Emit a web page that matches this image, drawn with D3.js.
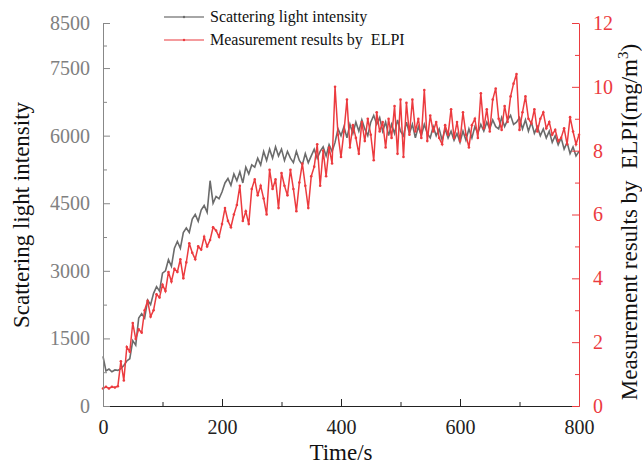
<!DOCTYPE html>
<html>
<head>
<meta charset="utf-8">
<script src="https://cdn.jsdelivr.net/npm/d3@7"></script>
<style>
  body { margin: 0; background: #fff; }
  text { font-family: "Liberation Serif", "Times New Roman", serif; }
</style>
</head>
<body>
<div id="chart"></div>
<script>
// time step of 5 s, 0..800
var timeStep = 5;

// scattering light intensity (left axis)
var scatterVals = [
  1100,780,820,760,800,790,830,900,1000,1050,
  1450,1350,1950,2050,1950,2350,2250,2500,2650,2550,
  2950,3000,3250,3100,3500,3650,3500,3850,3950,3850,
  4150,4250,4100,4350,4450,4300,5000,4500,4650,4600,
  4750,4950,5050,4900,5150,5000,5200,4950,5300,5150,
  5350,5300,5500,5350,5650,5450,5700,5500,5750,5550,
  5700,5450,5650,5500,5400,5650,5450,5350,5600,5400,
  5550,5700,5500,5650,5750,5550,5800,5650,5850,6150,
  6000,6200,5950,6250,6050,6300,6100,6350,6150,6000,
  6300,6450,6250,6400,6100,6300,6000,6250,6050,6350,
  6100,6000,6300,6050,6250,5950,6200,6000,6250,6050,
  5950,6200,6000,6150,5900,6150,5950,6100,5900,6050,
  5850,6100,5900,6150,5950,6200,6050,6250,6100,6300,
  6150,6350,6200,6150,6400,6200,6350,6450,6250,6300,
  6400,6150,6350,6100,6300,6050,6200,6000,6150,5950,
  6100,5850,6000,5800,5950,5700,5850,5600,5750,5550,
  5650
];

// ELPI measurement, mg/m3 (right axis)
var elpiVals = [
  0.55,0.6,0.55,0.6,0.58,0.62,1.4,0.8,1.85,1.7,
  2.6,2.1,2.4,2.3,3.0,3.3,2.8,3.0,3.5,3.4,
  3.8,3.6,4.2,3.9,4.3,4.2,4.6,4.0,4.5,5.1,
  4.8,4.6,5.0,4.9,5.3,5.0,5.2,5.6,5.5,5.3,
  5.7,6.2,5.8,5.6,6.0,6.3,6.9,5.8,6.1,5.7,
  6.8,7.1,6.6,6.9,6.5,6.0,7.4,6.8,7.1,6.2,
  7.3,6.9,6.6,7.4,6.8,6.1,7.0,7.6,6.9,6.2,
  7.2,7.5,8.2,6.9,8.0,7.2,8.1,7.6,10.0,8.5,
  7.8,8.6,9.6,8.1,8.8,8.4,7.9,8.9,8.3,9.0,
  8.5,7.7,9.2,8.6,8.9,8.1,9.0,8.4,9.4,7.9,
  9.6,7.8,9.5,8.5,9.6,8.6,9.0,8.4,9.9,8.3,
  9.1,8.6,8.9,8.4,8.2,8.8,8.5,9.3,8.4,8.9,
  8.3,9.2,8.5,8.1,8.8,9.0,8.4,9.8,8.7,9.3,
  8.6,9.6,9.95,9.0,8.65,9.4,8.9,9.7,10.1,10.4,
  8.65,9.2,9.7,9.0,8.85,9.3,8.6,9.0,9.2,8.7,
  8.9,8.5,8.65,8.3,8.4,8.7,8.2,9.05,8.6,8.2,
  8.5
];

var leftTicks = [0, 1500, 3000, 4500, 6000, 7500, 8500],
	leftMinor = [750, 2250, 3750, 5250, 6750, 8000],
	rightTicks = [0, 2, 4, 6, 8, 10, 12],
	rightMinor = [1, 3, 5, 7, 9, 11],
	xTicks = [0, 200, 400, 600, 800],
	xMinor = [100, 300, 500, 700];

var seriesNames = ["Scattering light intensity", "Measurement results by  ELPI"];

var width = 642,
	height = 468,
	margin = {left: 103, right: 63, top: 23, bottom: 62},
	grayCol = "#6b6b6b",
	redCol = "#ec3b3f";

var svg = d3.select("#chart").append("svg")
	.attr("width", width)
	.attr("height", height);

var x = d3.scaleLinear().domain([0, 800]).range([margin.left, width - margin.right]);
var yL = d3.scaleLinear().domain([0, 8500]).range([height - margin.bottom, margin.top]);
var yR = d3.scaleLinear().domain([0, 12]).range([height - margin.bottom, margin.top]);

var scatterData = scatterVals.map(function(v, i) { return [i * timeStep, v]; });
var elpiData = elpiVals.map(function(v, i) { return [i * timeStep, v]; });

// lines
var lineL = d3.line().x(function(d) { return x(d[0]); }).y(function(d) { return yL(d[1]); });
var lineR = d3.line().x(function(d) { return x(d[0]); }).y(function(d) { return yR(d[1]); });

svg.append("path")
	.datum(scatterData)
	.attr("fill", "none")
	.attr("stroke", grayCol)
	.attr("stroke-width", 1.6)
	.attr("d", lineL);

svg.append("path")
	.datum(elpiData)
	.attr("fill", "none")
	.attr("stroke", redCol)
	.attr("stroke-width", 1.5)
	.attr("d", lineR);

svg.append("g").selectAll("circle")
	.data(elpiData)
	.enter().append("circle")
	.attr("cx", function(d) { return x(d[0]); })
	.attr("cy", function(d) { return yR(d[1]); })
	.attr("r", 1.3)
	.attr("fill", redCol);

// axes
function styleAxis(g, col, txtCol) {
	g.select(".domain").attr("stroke", col);
	g.selectAll(".tick line").attr("stroke", col);
	g.selectAll("text").attr("fill", txtCol).style("font-size", "20px");
}

var bottomY = height - margin.bottom;

svg.append("g")
	.attr("transform", "translate(0," + bottomY + ")")
	.call(d3.axisBottom(x).tickValues(xTicks).tickSizeInner(-7).tickSizeOuter(0).tickPadding(14).tickFormat(d3.format("d")))
	.call(styleAxis, "#222", "#222");
svg.append("g")
	.attr("transform", "translate(0," + bottomY + ")")
	.call(d3.axisBottom(x).tickValues(xMinor).tickSize(-4).tickFormat(""))
	.call(function(g) { g.select(".domain").remove(); g.selectAll("line").attr("stroke", "#222"); });

svg.append("g")
	.attr("transform", "translate(" + margin.left + ",0)")
	.call(d3.axisLeft(yL).tickValues(leftTicks).tickSizeInner(-7).tickSizeOuter(0).tickPadding(13).tickFormat(d3.format("d")))
	.call(styleAxis, "#888", "#808080");
svg.append("g")
	.attr("transform", "translate(" + margin.left + ",0)")
	.call(d3.axisLeft(yL).tickValues(leftMinor).tickSize(-4).tickFormat(""))
	.call(function(g) { g.select(".domain").remove(); g.selectAll("line").attr("stroke", "#888"); });

var rx = width - margin.right;
svg.append("g")
	.attr("transform", "translate(" + rx + ",0)")
	.call(d3.axisRight(yR).tickValues(rightTicks).tickSizeInner(-7).tickSizeOuter(0).tickPadding(14).tickFormat(d3.format("d")))
	.call(styleAxis, redCol, redCol);
svg.append("g")
	.attr("transform", "translate(" + rx + ",0)")
	.call(d3.axisRight(yR).tickValues(rightMinor).tickSize(-4).tickFormat(""))
	.call(function(g) { g.select(".domain").remove(); g.selectAll("line").attr("stroke", redCol); });

// axis titles
svg.append("text")
	.attr("x", x(400))
	.attr("y", 460)
	.attr("text-anchor", "middle")
	.style("font-size", "23px")
	.attr("fill", "#111")
	.text("Time/s");

svg.append("text")
	.attr("transform", "translate(29,215) rotate(-90)")
	.attr("text-anchor", "middle")
	.style("font-size", "23px")
	.attr("fill", "#111")
	.text("Scattering light intensity");

var rt = svg.append("text")
	.attr("transform", "translate(637,222) rotate(-90)")
	.attr("text-anchor", "middle")
	.style("font-size", "23px")
	.attr("fill", "#111")
	.attr("xml:space", "preserve");
rt.append("tspan").text("Measurement results by  ELPI(mg/m");
rt.append("tspan").attr("dy", -9).style("font-size", "15px").text("3");
rt.append("tspan").attr("dy", 9).text(")");

// legend
var legend = svg.append("g").selectAll("g")
	.data(seriesNames)
	.enter().append("g")
	.attr("transform", function(d, i) { return "translate(164," + (17 + i * 23) + ")"; });

legend.append("line")
	.attr("x1", 0).attr("x2", 40)
	.attr("stroke", function(d, i) { return i ? "#f07a7d" : "#888"; })
	.attr("stroke-width", 1.4);
legend.append("circle")
	.attr("cx", 20).attr("r", 1.2)
	.attr("fill", function(d, i) { return i ? redCol : grayCol; });
legend.append("text")
	.attr("x", 46)
	.attr("y", 5)
	.style("font-size", "16px")
	.attr("fill", "#111")
	.attr("xml:space", "preserve")
	.text(function(d) { return d; });
</script>
</body>
</html>
